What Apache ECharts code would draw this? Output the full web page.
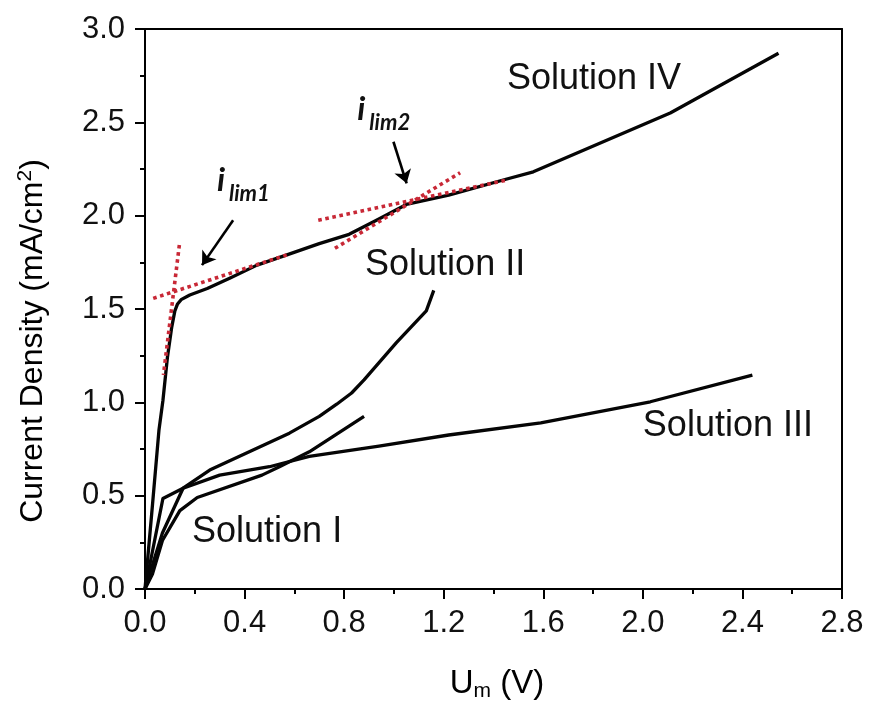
<!DOCTYPE html>
<html><head><meta charset="utf-8">
<script src="https://cdn.jsdelivr.net/npm/echarts/dist/echarts.min.js"></script>
<style>html,body{margin:0;padding:0;background:#fff}#c{width:869px;height:702px}</style>
</head><body><div id="c"></div>
<script>
// ---- data (x: U_m in V, y: current density in mA/cm2) ----
const solutionI = [[0,0],[0.03,0.08],[0.07,0.26],[0.14,0.42],[0.21,0.49],[0.47,0.61],[0.54,0.655],[0.66,0.735],[0.88,0.925]];
const solutionII = [[0,0],[0.07,0.3],[0.153,0.54],[0.26,0.637],[0.58,0.835],[0.70,0.925],[0.77,0.99],[0.83,1.05],[0.88,1.12],[1.01,1.32],[1.13,1.49],[1.16,1.6]];
const solutionIII = [[0,0],[0.072,0.485],[0.153,0.54],[0.30,0.61],[0.50,0.655],[0.66,0.71],[0.94,0.765],[1.22,0.825],[1.59,0.89],[2.03,1.003],[2.44,1.146]];
const solutionIV = [[0,0],[0.03,0.45],[0.056,0.85],[0.072,1.01],[0.09,1.24],[0.107,1.40],[0.12,1.49],[0.13,1.525],[0.145,1.55],[0.18,1.575],[0.25,1.61],[0.34,1.665],[0.45,1.735],[0.57,1.79],[0.70,1.85],[0.82,1.90],[0.93,1.975],[1.05,2.06],[1.22,2.11],[1.45,2.195],[1.56,2.235],[2.11,2.55],[2.545,2.87]];
// red dotted tangent lines
const tangentA = [[0.138,1.843],[0.074,1.146]];
const tangentB = [[0.033,1.557],[0.57,1.79]];
const tangentC = [[0.696,1.976],[1.453,2.19]];
const tangentD = [[0.763,1.825],[1.266,2.23]];
// annotation arrows [from, to]
const arrows = [[[0.354,1.976],[0.229,1.735]],[[0.998,2.396],[1.051,2.173]]];
// text labels [x, y, text]
const curveLabels = [[1.454,2.732,'Solution IV'],[0.884,1.736,'Solution II'],[2.0,0.873,'Solution III'],[0.189,0.305,'Solution I']];
const limLabels = [[0.289,2.10,'lim1'],[0.853,2.48,'lim2']];
const xTicks = [0,0.4,0.8,1.2,1.6,2.0,2.4,2.8];
const yTicks = [0,0.5,1.0,1.5,2.0,2.5,3.0];

const FONT = '"Liberation Sans", Arial, sans-serif';
const chart = echarts.init(document.getElementById('c'), null, {renderer:'canvas'});
const black = '#000';
const curve = (d) => ({type:'line', data:d, symbol:'none', smooth:false, lineStyle:{color:'#050505', width:3.3, join:'round'}, z:3});
const dotted = (d) => ({type:'line', data:d, symbol:'none', lineStyle:{color:'#c82836', width:3.6, type:[3.6,3.6]}, z:4});

chart.setOption({
  animation:false,
  backgroundColor:'#fff',
  grid:{left:145, right:27, top:29, bottom:113},
  xAxis:[{
    type:'value', min:xTicks[0], max:xTicks[xTicks.length-1], interval:0.4, position:'bottom',
    axisLine:{show:true, onZero:false, lineStyle:{color:black, width:2}},
    axisTick:{show:true, inside:false, length:10, lineStyle:{color:black, width:2}},
    minorTick:{show:true, splitNumber:2, length:5, lineStyle:{color:black, width:2}},
    splitLine:{show:false}, minorSplitLine:{show:false},
    axisLabel:{fontSize:31, color:'#111', margin:19, fontFamily:FONT, formatter:(v)=>v.toFixed(1)}
  },{
    type:'value', min:xTicks[0], max:xTicks[xTicks.length-1], position:'top',
    axisLine:{show:true, onZero:false, lineStyle:{color:black, width:2}},
    axisTick:{show:false}, axisLabel:{show:false}, splitLine:{show:false}
  }],
  yAxis:[{
    type:'value', min:yTicks[0], max:yTicks[yTicks.length-1], interval:0.5, position:'left',
    axisLine:{show:true, onZero:false, lineStyle:{color:black, width:2}},
    axisTick:{show:true, inside:false, length:10, lineStyle:{color:black, width:2}},
    minorTick:{show:true, splitNumber:2, length:5, lineStyle:{color:black, width:2}},
    splitLine:{show:false}, minorSplitLine:{show:false},
    axisLabel:{fontSize:31, color:'#111', margin:20, fontFamily:FONT, formatter:(v)=>v.toFixed(1)}
  },{
    type:'value', min:yTicks[0], max:yTicks[yTicks.length-1], position:'right',
    axisLine:{show:true, onZero:false, lineStyle:{color:black, width:2}},
    axisTick:{show:false}, axisLabel:{show:false}, splitLine:{show:false}
  }],
  series:[
    curve(solutionI), curve(solutionII), curve(solutionIII), curve(solutionIV),
    dotted(tangentA), dotted(tangentB), dotted(tangentC), dotted(tangentD),
    {type:'lines', coordinateSystem:'cartesian2d', z:5,
     data:arrows.map(a=>({coords:a})), symbol:['none','arrow'], symbolSize:[0,13],
     lineStyle:{color:'#000', width:2.6, opacity:1, curveness:0}}
  ]
});

const graphics = [];
curveLabels.forEach(([x,y,t])=>{
  const p = chart.convertToPixel({gridIndex:0},[x,y]);
  graphics.push({type:'text', x:p[0], y:p[1], z:10,
    style:{text:t, font:'36px '+FONT, fill:'#111', textAlign:'left', textVerticalAlign:'middle'}});
});
limLabels.forEach(([x,y,t])=>{
  const p = chart.convertToPixel({gridIndex:0},[x,y]);
  graphics.push({type:'text', x:p[0], y:p[1], z:10,
    style:{text:'i', font:'italic bold 33px Lato, "Liberation Sans", sans-serif', fill:'#111', textAlign:'left', textVerticalAlign:'bottom'}});
  graphics.push({type:'text', x:p[0]+12, y:p[1]+8, z:10,
    style:{text:t, font:'italic bold 22px Lato, "Liberation Sans", sans-serif', fill:'#111', textAlign:'left', textVerticalAlign:'bottom'}});
});
// axis titles
graphics.push({type:'text', x:33, y:341, rotation:Math.PI/2, z:10,
  style:{text:'{a|Current Density (mA/cm}{b|2}{a|)}', textAlign:'center', textVerticalAlign:'middle',
    rich:{a:{fontSize:32, fontFamily:FONT, color:'#111', lineHeight:36},
          b:{fontSize:21, fontFamily:FONT, color:'#111', lineHeight:20, verticalAlign:'top'}}}});
graphics.push({type:'text', x:497, y:684, z:10,
  style:{text:'{a|U}{b|m}{a| (V)}', textAlign:'center', textVerticalAlign:'middle',
    rich:{a:{fontSize:33, fontFamily:FONT, color:'#111', lineHeight:36},
          b:{fontSize:21, fontFamily:FONT, color:'#111', lineHeight:16, verticalAlign:'bottom'}}}});
chart.setOption({graphic:graphics});
</script></body></html>
